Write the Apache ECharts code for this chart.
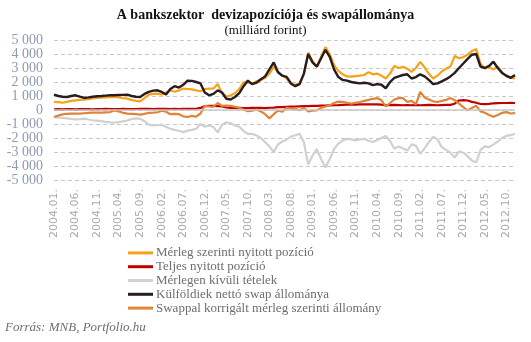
<!DOCTYPE html>
<html>
<head>
<meta charset="utf-8">
<script src="https://cdn.jsdelivr.net/npm/echarts@6/dist/echarts.min.js"></script>
<style>html,body{margin:0;padding:0;background:#fff}#c{width:531px;height:342px}</style>
</head>
<body>
<div id="c"></div>
<script>
// monthly categories 2004.01. .. 2012.12.
const categories = [];
for (let y = 2004; y <= 2012; y++) for (let m = 1; m <= 12; m++) categories.push(y + '.' + (m < 10 ? '0' : '') + m + '.');

const seriesNames = ['Mérleg szerinti nyitott pozíció','Teljes nyitott pozíció','Mérlegen kívüli tételek','Külföldiek nettó swap állománya','Swappal korrigált mérleg szerinti állomány'];

const merleg = [580,560,520,580,650,690,720,740,780,830,
860,880,900,920,930,900,850,810,720,650,
620,850,1100,1150,1170,1100,1250,1400,1300,1400,
1530,1500,1470,1400,1340,1500,1530,1530,1850,1200,
950,1050,1200,1500,2000,1950,1900,2050,2150,2300,
2600,3080,2700,2450,2250,1850,1800,1900,2600,4100,
3500,3100,3800,4500,4000,3200,2800,2550,2400,2380,
2420,2450,2500,2700,2550,2600,2450,2250,2600,3150,
3000,3080,2950,2720,3000,3440,3050,2600,2250,2450,
2750,2950,3100,3850,3700,3780,3950,4200,4350,3300,
2960,3050,2900,3100,2700,2400,2300,2250];

const teljes = [50,60,50,70,60,50,60,70,60,50,
60,70,80,70,60,70,80,70,60,70,
80,90,80,70,80,90,80,70,80,70,
80,90,80,90,150,280,290,300,280,260,
180,150,140,150,140,130,150,160,150,140,
160,170,200,210,230,240,250,260,270,280,
290,300,310,320,330,340,350,370,380,390,
390,400,400,410,400,400,380,340,350,360,
350,340,350,340,350,340,350,360,350,340,
350,360,370,450,680,700,680,580,520,430,
420,440,480,490,500,500,510,500];

const kivuli = [-500,-540,-570,-600,-640,-670,-650,-620,-680,-730,
-760,-800,-850,-880,-900,-860,-810,-750,-650,-600,
-620,-800,-1050,-1100,-1090,-1050,-1200,-1340,-1420,-1480,
-1580,-1470,-1420,-1340,-1000,-1200,-1100,-1220,-1600,-1050,
-880,-950,-1100,-1200,-1500,-1700,-1700,-1820,-2000,-2300,
-2600,-3000,-2450,-2250,-2100,-1900,-1800,-1700,-2300,-3900,
-3250,-2800,-3500,-4100,-3500,-2800,-2400,-2170,-2060,-2100,
-2170,-2100,-2060,-2200,-2290,-2150,-2000,-1850,-2200,-2770,
-2600,-2750,-2900,-2450,-2550,-3130,-2750,-2300,-1900,-2100,
-2650,-2850,-3050,-3400,-2950,-3050,-3300,-3600,-3750,-2850,
-2600,-2650,-2450,-2250,-2000,-1850,-1800,-1700];

const swap = [1100,1000,950,930,1000,1050,950,860,900,950,
980,1000,1030,1050,1050,1070,1080,1100,1000,950,
930,1150,1300,1380,1410,1290,1100,1500,1700,1600,
1800,2100,2080,2000,1900,1250,1050,1150,1400,1250,
800,750,930,1200,1700,2100,1850,1950,2200,2400,
2900,3400,2700,2450,2370,1900,1700,1850,2600,4000,
3400,3100,3700,4300,3800,2900,2350,2150,2100,2000,
1950,1900,1950,1900,1780,1850,1800,1550,2000,2300,
2400,2500,2550,2250,2350,2550,2400,2150,1850,1900,
2050,2200,2400,2650,3000,3320,3650,3950,4000,3100,
3000,3150,3450,3000,2650,2450,2300,2490];

const korrigalt = [-500,-400,-310,-270,-260,-250,-260,-230,-200,-190,
-180,-190,-170,-150,-30,-100,-200,-260,-280,-300,
-330,-280,-200,-190,-160,-50,-120,-300,-280,-300,
-450,-500,-420,-480,-250,300,250,230,500,300,
320,290,230,160,20,-80,-50,40,-100,-300,
-600,-300,-50,-120,150,100,80,-20,150,-100,
-50,-30,150,250,330,500,600,580,520,460,
520,570,650,720,800,850,700,250,500,750,
850,850,580,650,400,1300,900,750,620,570,
650,720,850,700,450,200,-20,150,300,-100,
-200,-350,-480,-350,-200,-150,-250,-220];

const colors = ['#F7A21B','#C00000','#D0D0D0','#2A1B1F','#E0843A'];
const dataList = [merleg, teljes, kivuli, swap, korrigalt];

const chart = echarts.init(document.getElementById('c'), null, {renderer: 'canvas'});

function fmt(v) {
  if (v === 0) return '0';
  const a = Math.abs(v);
  const s = a >= 1000 ? Math.floor(a / 1000) + ' ' + String(a % 1000).padStart(3, '0') : String(a);
  return (v < 0 ? '-' : '') + s;
}

const series = dataList.map((d, i) => ({
  name: seriesNames[i],
  type: 'line',
  data: d,
  symbol: 'none',
  showSymbol: false,
  smooth: false,
  lineStyle: {color: colors[i], width: i === 3 ? 2.4 : 2.2},
  itemStyle: {color: colors[i]},
  z: [3, 2, 1, 5, 4][i],
  animation: false
}));
series[2].markLine = {
  silent: true, symbol: 'none', animation: false,
  label: {show: false},
  lineStyle: {color: '#C8C8C8', type: 'solid', width: 1.5},
  data: [{yAxis: 0}]
};

chart.setOption({
  animation: false,
  backgroundColor: '#fff',
  title: {
    text: 'A bankszektor  devizapozíciója és swapállománya',
    subtext: '(milliárd forint)',
    left: 'center',
    top: 3,
    itemGap: 2,
    textStyle: {fontFamily: 'Liberation Serif', fontWeight: 'bold', fontSize: 14, color: '#111'},
    subtextStyle: {fontFamily: 'Liberation Serif', fontSize: 13, color: '#111'}
  },
  legend: {
    orient: 'vertical',
    left: 123,
    top: 241,
    icon: 'rect',
    itemWidth: 25,
    itemHeight: 3,
    itemGap: 0,
    data: seriesNames,
    textStyle: {fontFamily: 'Liberation Serif', fontSize: 13, color: '#6E6E6E', lineHeight: 13.8, padding: [0, 0, 0, -2]}
  },
  grid: {left: 54, right: 16, top: 40, bottom: 162, containLabel: false},
  xAxis: {
    type: 'category',
    data: categories,
    boundaryGap: false,
    axisLine: {show: false},
    axisTick: {show: false},
    axisLabel: {interval: 4, rotate: 90, margin: 9, fontFamily: 'DejaVu Sans', fontSize: 11, color: '#ABABAB'},
    splitLine: {show: false}
  },
  yAxis: {
    type: 'value',
    min: -5000, max: 5000, interval: 1000,
    axisLine: {show: false},
    axisTick: {show: false},
    axisLabel: {formatter: fmt, margin: 11, fontFamily: 'Liberation Serif', fontSize: 14, color: '#8D9CB2'},
    splitLine: {show: true, lineStyle: {color: '#C8C8C8', type: [4, 3], width: 1}}
  },
  graphic: [{
    type: 'text', left: 5, top: 321,
    style: {text: 'Forrás: MNB, Portfolio.hu', fontFamily: 'Liberation Serif', fontStyle: 'italic', fontSize: 13, fill: '#6E6E6E'}
  }],
  series: series
});
</script>
</body>
</html>
